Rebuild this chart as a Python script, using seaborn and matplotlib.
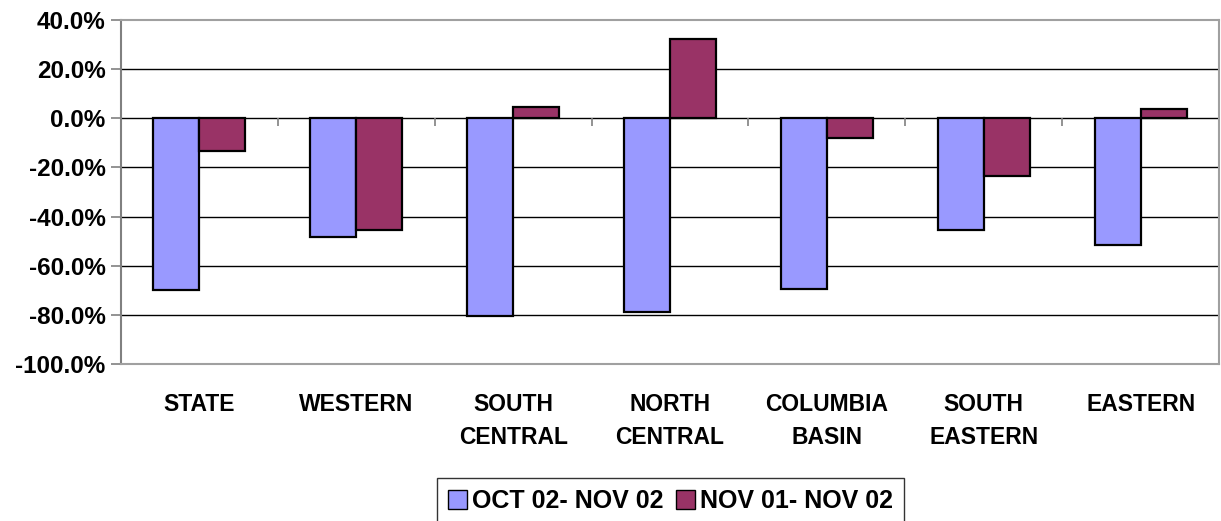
import matplotlib
matplotlib.use("Agg")
import matplotlib.pyplot as plt
import seaborn as sns
import pandas as pd
from matplotlib.patches import Patch
from matplotlib.ticker import FuncFormatter

categories = ["STATE", "WESTERN", "SOUTH\nCENTRAL", "NORTH\nCENTRAL",
              "COLUMBIA\nBASIN", "SOUTH\nEASTERN", "EASTERN"]
series_names = ["OCT 02- NOV 02", "NOV 01- NOV 02"]
oct_nov = [-70.0, -48.2, -80.6, -79.0, -69.3, -45.6, -51.4]
nov_nov = [-13.2, -45.6, 4.8, 32.4, -8.1, -23.6, 3.9]
y_ticks = [-100, -80, -60, -40, -20, 0, 20, 40]
colors = ["#9999FF", "#993366"]

df = pd.DataFrame({
    "region": categories * 2,
    "series": [series_names[0]] * len(categories) + [series_names[1]] * len(categories),
    "value": oct_nov + nov_nov,
})

sns.set_style("white")
plt.rcParams["font.family"] = ["Liberation Sans", "DejaVu Sans"]
plt.rcParams["font.weight"] = "bold"
plt.rcParams["text.color"] = "black"
plt.rcParams["xtick.labelcolor"] = "black"
plt.rcParams["ytick.labelcolor"] = "black"

fig = plt.figure(figsize=(12.21, 5.21), dpi=100)
ax = fig.add_axes([0.0991, 0.3013, 0.8993, 0.6603])

# gridlines behind the bars
for t in y_ticks[1:-1]:
    ax.axhline(t, color="black", lw=1.0, zorder=0)

sns.barplot(data=df, x="region", y="value", hue="series", palette=colors,
            saturation=1, width=0.586, gap=0, edgecolor="black", linewidth=1.6,
            legend=False, ax=ax, zorder=2)

ax.set_xlim(-0.5, len(categories) - 0.5)
ax.set_ylim(-100, 40)
ax.set_yticks(y_ticks)
ax.yaxis.set_major_formatter(FuncFormatter(lambda v, p: f"{v:.1f}%"))
ax.tick_params(axis="y", which="major", left=True, length=7, width=1.2,
               color="#808080", labelcolor="black", labelsize=17.5, pad=4)
ax.tick_params(axis="x", length=0, labelcolor="black", labelsize=16.5, pad=21)
for lbl in ax.get_xticklabels():
    lbl.set_linespacing(1.55)
    lbl.set_fontweight("bold")
for lbl in ax.get_yticklabels():
    lbl.set_fontweight("bold")
ax.set_xlabel("")
ax.set_ylabel("")

# category boundary ticks hanging below the zero line
ax.vlines([i + 0.5 for i in range(len(categories) - 1)], -3.2, 0,
          color="#808080", lw=1.2, zorder=1)

for s in ["top", "bottom", "left", "right"]:
    ax.spines[s].set_visible(True)
    ax.spines[s].set_color("#A0A0A0")
    ax.spines[s].set_linewidth(1.5)
ax.spines["left"].set_color("#808080")

handles = [Patch(facecolor=c, edgecolor="black", linewidth=1.0) for c in colors]
leg = fig.legend(handles, series_names, loc="upper center",
                 bbox_to_anchor=(0.549, 0.0825), ncol=2, frameon=True,
                 fancybox=False, edgecolor="black",
                 prop={"weight": "bold", "size": 18},
                 handlelength=0.75, handleheight=0.75, handletextpad=0.2,
                 columnspacing=0.5, borderpad=0.45, borderaxespad=0)
leg.get_frame().set_linewidth(1.0)
for t in leg.get_texts():
    t.set_color("black")

fig.savefig("out.png", dpi=100)
